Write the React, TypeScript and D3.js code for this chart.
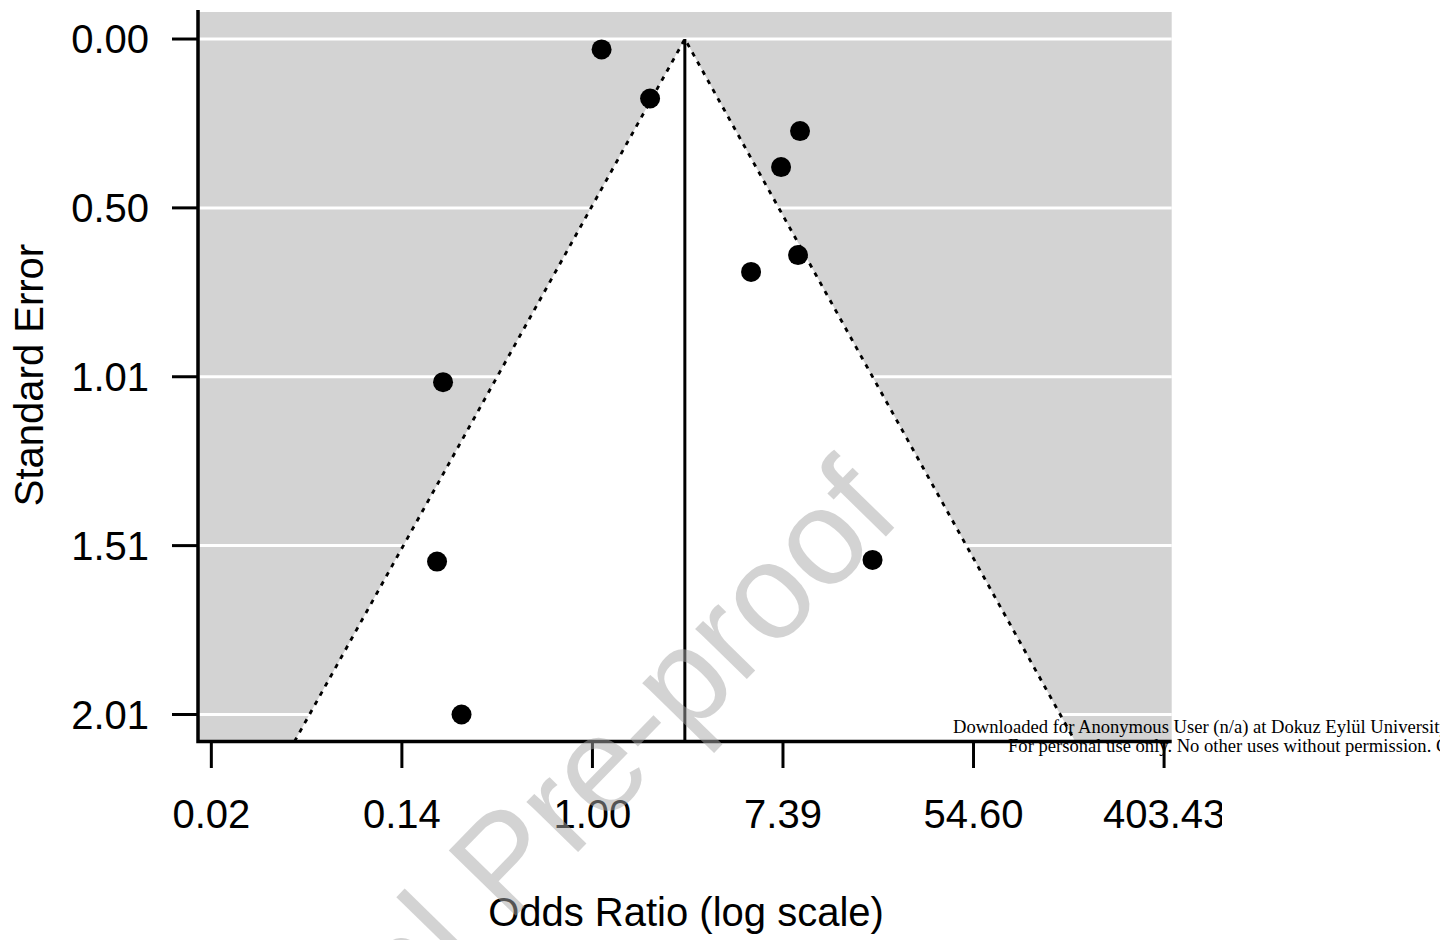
import React from 'react';
import * as d3 from 'd3';

const width = 1440;
const height = 940;

// study estimates (log odds ratio, standard error)
const logOddsRatio = [0.096, 0.605, 2.179, 1.98, 2.158, 1.665, -1.568, -1.631, 2.94, -1.374];
const standardError = [0.031, 0.177, 0.274, 0.381, 0.643, 0.693, 1.021, 1.555, 1.55, 2.01];

const pooledLogOR = 0.97;
const maxSE = 2.01;

const xTickLogs = [-4, -2, 0, 2, 4, 6];
const xTickLabels = ['0.02', '0.14', '1.00', '7.39', '54.60', '403.43'];
const yTickValues = [0, 0.5025, 1.005, 1.5075, 2.01];
const yTickLabels = ['0.00', '0.50', '1.01', '1.51', '2.01'];

const plot = { left: 198, right: 1171.7, top: 12, bottom: 741.5 };

const x = d3.scaleLinear()
  .domain([pooledLogOR - 5.11, pooledLogOR + 5.11])
  .range([plot.left, plot.right]);

const y = d3.scaleLinear()
  .domain([-0.04 * maxSE, maxSE * 1.04])
  .range([plot.top, plot.bottom]);

const sans = 'Liberation Sans, Arial, Helvetica, sans-serif';
const serif = 'Liberation Serif, Times New Roman, serif';

const App = () => {
  const yBottom = y.domain()[1];
  const funnel: [number, number][] = [
    [pooledLogOR - 1.96 * yBottom, yBottom],
    [pooledLogOR, 0],
    [pooledLogOR + 1.96 * yBottom, yBottom],
  ];
  const line = d3.line<[number, number]>().x(d => x(d[0])).y(d => y(d[1]));

  return (
    <svg width={width} height={height} style={{ position: 'absolute', left: 0, top: 0, background: '#fff' }}>
      <defs>
        <clipPath id="plotArea">
          <rect x={plot.left} y={plot.top} width={plot.right - plot.left} height={plot.bottom - plot.top} />
        </clipPath>
        <clipPath id="figure">
          <rect x={0} y={0} width={1222} height={height} />
        </clipPath>
      </defs>

      <g clipPath="url(#figure)">
        <rect x={plot.left} y={plot.top} width={plot.right - plot.left} height={plot.bottom - plot.top} fill="#d3d3d3" />
        {yTickValues.map((v, i) => (
          <line key={i} x1={plot.left} x2={plot.right} y1={y(v)} y2={y(v)} stroke="#fff" strokeWidth={3} />
        ))}
        <g clipPath="url(#plotArea)">
          <path d={line(funnel) + 'Z'} fill="#fff" />
          <path d={line(funnel)!} fill="none" stroke="#000" strokeWidth={2.8} strokeDasharray="4.5 6" />
          <line x1={x(pooledLogOR)} x2={x(pooledLogOR)} y1={y(0)} y2={plot.bottom} stroke="#000" strokeWidth={3} />
        </g>
        {logOddsRatio.map((v, i) => (
          <circle key={i} cx={x(v)} cy={y(standardError[i])} r={10} fill="#000" />
        ))}

        {/* L-shaped box */}
        <path d={`M${plot.left},${plot.top - 2}V${plot.bottom}H${plot.right}`} fill="none" stroke="#000" strokeWidth={3.5} />

        {/* y axis */}
        {yTickValues.map((v, i) => (
          <g key={i}>
            <line x1={172} x2={plot.left} y1={y(v)} y2={y(v)} stroke="#000" strokeWidth={3} />
            <text x={149} y={y(v) + 14.3} textAnchor="end" fontFamily={sans} fontSize={40} fill="#000">
              {yTickLabels[i]}
            </text>
          </g>
        ))}
        <text transform="translate(43,375) rotate(-90)" textAnchor="middle" fontFamily={sans} fontSize={40} fill="#000">
          Standard Error
        </text>

        {/* x axis */}
        {xTickLogs.map((v, i) => (
          <g key={i}>
            <line x1={x(v)} x2={x(v)} y1={plot.bottom} y2={768} stroke="#000" strokeWidth={3} />
            <text x={x(v)} y={828} textAnchor="middle" fontFamily={sans} fontSize={40} fill="#000">
              {xTickLabels[i]}
            </text>
          </g>
        ))}
        <text x={686} y={926} textAnchor="middle" fontFamily={sans} fontSize={40} fill="#000">
          Odds Ratio (log scale)
        </text>
      </g>

      {/* journal watermark */}
      <text transform="translate(904,518) rotate(-45.7)" textAnchor="end" fontFamily={sans} fontSize={136} fill="#a8a8a8" fillOpacity={0.5}>
        Journal Pre-proof
      </text>

      <text x={953} y={733} fontFamily={serif} fontSize={18.6} fill="#000">
        Downloaded for Anonymous User (n/a) at Dokuz Eylül University
      </text>
      <text x={1008} y={752} fontFamily={serif} fontSize={18.6} fill="#000">
        For personal use only. No other uses without permission. Copyright
      </text>
    </svg>
  );
};

export default App;
